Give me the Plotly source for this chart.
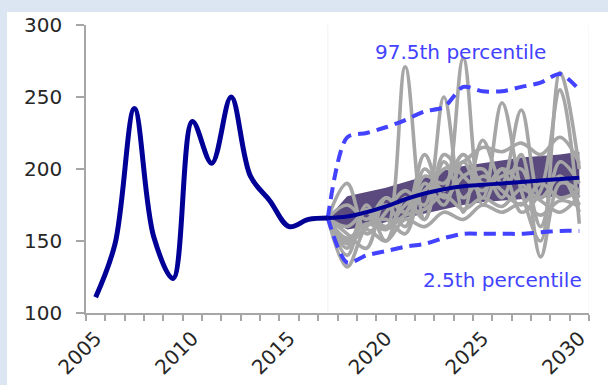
import plotly.graph_objects as go

# --- DATA ---
hist_years = list(range(2005, 2018))
hist_values = [111, 148, 242, 153, 124, 233, 204, 250, 195, 178, 160, 165, 166]

fc_years = list(range(2017, 2031))
central = [166, 167, 170, 174, 179, 183, 186, 188, 189, 190, 191, 192, 193, 194]
band_upper = [166, 181, 184, 187, 191, 195, 199, 202, 204, 206, 208, 209, 210, 212]
band_lower = [166, 158, 160, 163, 166, 169, 172, 175, 177, 178, 179, 180, 181, 181]
p975 = [166, 222, 225, 229, 234, 240, 243, 257, 254, 254, 257, 260, 266, 255]
p025 = [166, 135, 140, 143, 146, 148, 152, 155, 155, 155, 155, 156, 157, 157]

paths = [
    [166, 140, 172, 158, 271, 165, 205, 180, 195, 185, 175, 190, 180, 185],
    [166, 150, 160, 175, 160, 200, 185, 277, 175, 200, 190, 180, 195, 175],
    [166, 190, 155, 170, 185, 175, 250, 170, 220, 190, 241, 180, 195, 170],
    [166, 132, 160, 165, 155, 190, 175, 205, 180, 246, 185, 150, 267, 200],
    [166, 145, 175, 150, 180, 165, 210, 195, 185, 200, 170, 185, 255, 162],
    [166, 155, 145, 180, 170, 210, 180, 195, 200, 180, 210, 139, 190, 185],
    [166, 160, 170, 160, 175, 185, 200, 205, 215, 212, 218, 210, 222, 204],
    [166, 148, 158, 150, 165, 160, 170, 165, 175, 170, 176, 168, 178, 174],
    [166, 175, 165, 180, 170, 195, 190, 210, 190, 195, 200, 160, 205, 190],
    [166, 152, 162, 158, 168, 172, 182, 172, 180, 174, 186, 178, 170, 182],
]

label_years = [2005, 2010, 2015, 2020, 2025, 2030]
y_ticks = [100, 150, 200, 250, 300]

NAVY = "#000096"
GREY = "#a6a6a6"
DASH_BLUE = "#4242ff"
BAND = "#5b4a7e"
AXIS = "#a6a6a6"
FONT = "DejaVu Sans"

fig = go.Figure()

# purple central band
fig.add_trace(go.Scatter(x=fc_years, y=band_lower, mode="lines",
                         line=dict(width=0, color=BAND), showlegend=False,
                         hoverinfo="skip"))
fig.add_trace(go.Scatter(x=fc_years, y=band_upper, mode="lines",
                         line=dict(width=0, color=BAND), fill="tonexty",
                         fillcolor=BAND, showlegend=False, hoverinfo="skip"))

# simulated paths
for p in paths:
    fig.add_trace(go.Scatter(x=fc_years, y=p, mode="lines",
                             line=dict(color=GREY, width=3.6, shape="spline", smoothing=1),
                             showlegend=False))

# percentile bounds
for bound in (p975, p025):
    fig.add_trace(go.Scatter(x=fc_years, y=bound, mode="lines",
                             line=dict(color=DASH_BLUE, width=4, dash="12px,7px",
                                       shape="spline", smoothing=0.8),
                             showlegend=False))

# central forecast + history
fig.add_trace(go.Scatter(x=fc_years, y=central, mode="lines",
                         line=dict(color=NAVY, width=4, shape="spline"),
                         showlegend=False))
fig.add_trace(go.Scatter(x=hist_years, y=hist_values, mode="lines",
                         line=dict(color=NAVY, width=5, shape="spline", smoothing=1),
                         showlegend=False))

# white chart area on the light blue frame
fig.add_shape(type="rect", xref="paper", yref="paper",
              x0=-0.157, x1=1.1, y0=-0.4, y1=1.045,
              fillcolor="white", line=dict(width=0), layer="below")
# faint boundaries of the forecast region
for xv in (2017, 2030.5):
    fig.add_shape(type="line", xref="x", yref="y", x0=xv, x1=xv, y0=100, y1=300,
                  line=dict(color="#f0f0f0", width=1), layer="below")

fig.add_annotation(x=2023.87, y=281, text="97.5th percentile", showarrow=False,
                   font=dict(family=FONT, size=20, color=DASH_BLUE))
fig.add_annotation(x=2026.05, y=123, text="2.5th percentile", showarrow=False,
                   font=dict(family=FONT, size=20, color=DASH_BLUE))

fig.update_layout(
    width=608, height=385,
    margin=dict(l=86, r=19, t=25, b=72),
    paper_bgcolor="#dce6f2",
    plot_bgcolor="white",
    font=dict(family=FONT, size=20, color="#262626"),
    xaxis=dict(
        range=[2004.5, 2030.5], automargin=False,
        tickmode="array", tickvals=label_years,
        ticks="", tickangle=-45, showgrid=False, zeroline=False,
        showline=True, linecolor=AXIS, linewidth=1.5,
        ticklabelstandoff=4,
        minor=dict(ticks="outside", tickvals=[y + 0.5 for y in range(2004, 2031)],
                   ticklen=6, tickcolor=AXIS, tickwidth=1.5, showgrid=False),
    ),
    yaxis=dict(
        range=[100, 300], tickvals=y_ticks, automargin=False,
        ticks="outside", ticklen=8, tickcolor=AXIS, tickwidth=1.5,
        showline=True, linecolor=AXIS, linewidth=1.5,
        showgrid=False, zeroline=False, ticklabelstandoff=10,
    ),
)

# drop the browser's default page margin so the chart sits at the corner
fig.write_html("out.html", config={"displayModeBar": False},
               post_script="document.body.style.margin='0';")
